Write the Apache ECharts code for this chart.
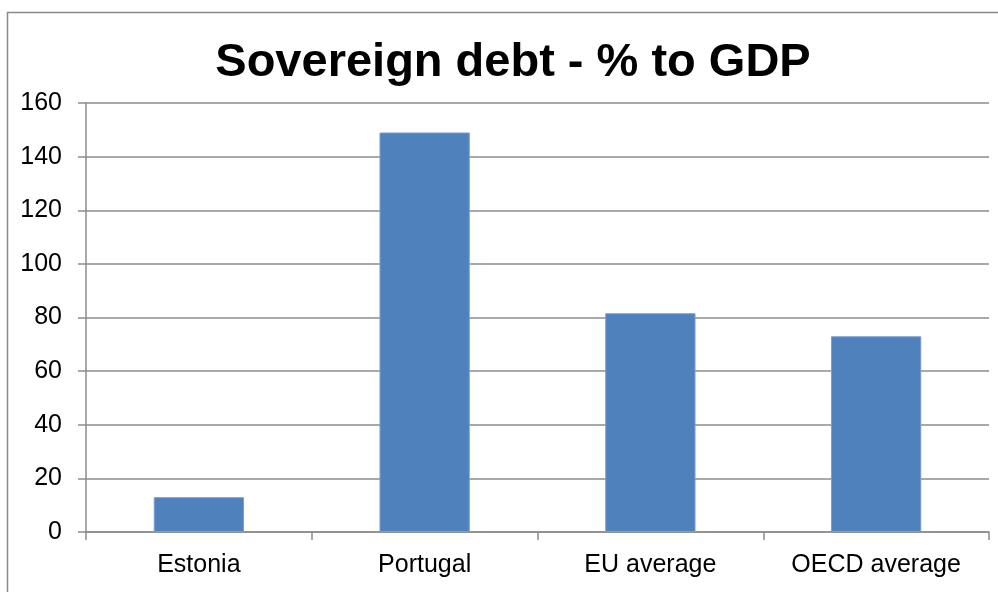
<!DOCTYPE html>
<html>
<head>
<meta charset="utf-8">
<script src="https://cdn.jsdelivr.net/npm/echarts@6/dist/echarts.min.js"></script>
<style>
  html, body { margin: 0; padding: 0; background: #fff; }
  #main { width: 998px; height: 592px; }
</style>
</head>
<body>
<div id="main"></div>
<script>
var categories = ['Estonia', 'Portugal', 'EU average', 'OECD average'];
var debtValues = [13, 149, 81.6, 73];

var chartDom = document.getElementById('main');
var myChart = echarts.init(chartDom);
var option;

option = {
  backgroundColor: '#fff',
  title: {
    text: 'Sovereign debt - % to GDP',
    left: 508,
    top: 35,
    textAlign: 'center',
    textStyle: {
      fontFamily: 'Liberation Sans',
      fontWeight: 'bold',
      fontSize: 47,
      color: '#000'
    }
  },
  graphic: [
    {
      type: 'rect',
      shape: { x: 7.5, y: 12.5, width: 1100, height: 700 },
      style: { fill: 'none', stroke: '#8a8a8a', lineWidth: 1.5 },
      silent: true
    }
  ],
  grid: {
    left: 86,
    right: 9,
    top: 103,
    bottom: 60
  },
  xAxis: {
    type: 'category',
    data: categories,
    axisLine: { lineStyle: { color: '#8c8c8c', width: 1.5 } },
    axisTick: { show: true, length: 8, lineStyle: { color: '#8c8c8c', width: 1.5 } },
    axisLabel: {
      margin: 21,
      color: '#000',
      fontFamily: 'Liberation Sans',
      fontSize: 25
    }
  },
  yAxis: {
    type: 'value',
    min: 0,
    max: 160,
    interval: 20,
    axisLine: { show: true, lineStyle: { color: '#8c8c8c', width: 1.5 } },
    axisTick: { show: true, length: 8, lineStyle: { color: '#8c8c8c', width: 1.5 } },
    splitLine: { lineStyle: { color: '#8c8c8c', width: 1.5 } },
    axisLabel: {
      margin: 24,
      color: '#000',
      fontFamily: 'Liberation Sans',
      fontSize: 25
    }
  },
  series: [
    {
      name: 'Debt',
      type: 'bar',
      data: debtValues,
      barWidth: '40%',
      itemStyle: {
        color: '#4F81BD',
        borderColor: '#7a9fd0',
        borderWidth: 1
      }
    }
  ]
};

option && myChart.setOption(option);
</script>
</body>
</html>
